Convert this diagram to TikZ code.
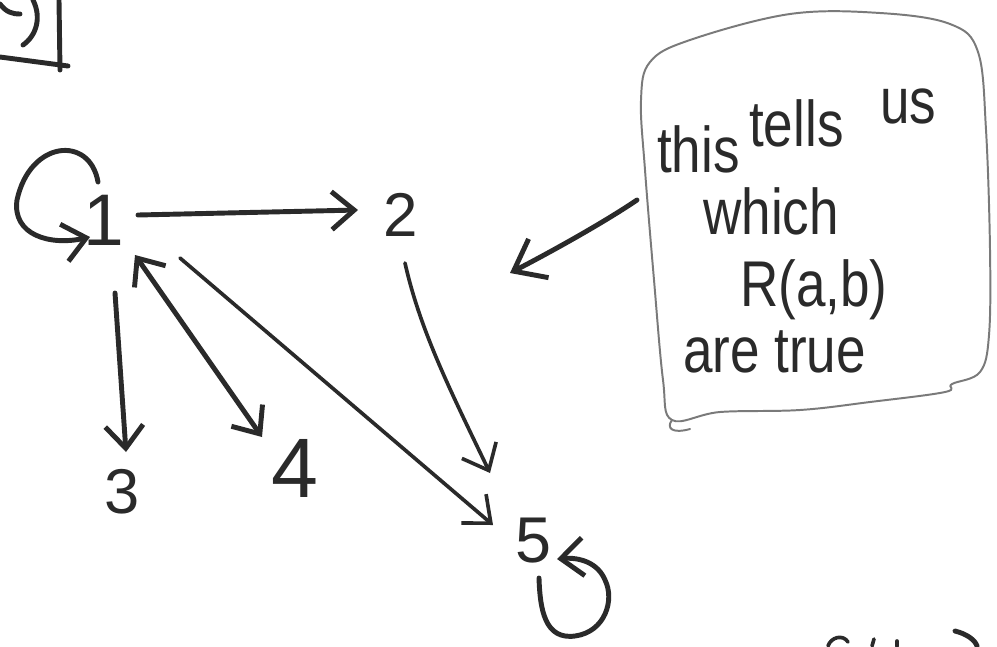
\documentclass[tikz,border=0pt]{standalone}
\usepackage{fontspec}
\setmainfont{Liberation Sans}
\usetikzlibrary{arrows.meta,calc}
\definecolor{ink}{HTML}{2A2A2A}
\definecolor{pencil}{HTML}{7A7A7A}
\begin{document}
\begin{tikzpicture}[x=0.025cm,y=-0.025cm,
  stroke/.style={draw=ink,line width=3.5pt,line cap=round,line join=round},
  thinstroke/.style={draw=ink,line width=2.6pt,line cap=round,line join=round},
  barb/.style={-{Straight Barb[length=16pt,width=27pt]}},
  twobarb/.style={{Straight Barb[length=16pt,width=27pt]}-{Straight Barb[length=16pt,width=27pt]}},
  bigbarb/.style={-{Straight Barb[length=20pt,width=31pt]}},
  digit/.style={text=ink,inner sep=0pt},
  note/.style={text=ink,inner sep=0pt,xscale=0.82,font=\fontsize{46}{46}\selectfont},
  outline/.style={draw=pencil,line width=1.4pt,line cap=round,line join=round}]
\useasboundingbox (0,0) rectangle (997,646);
\clip (0,0) rectangle (997,646);

% corner of a boxed formula running off the top left
\draw[stroke] (59,0) -- (60,70);
\draw[stroke] (0,57) -- (68,66);
\draw[stroke] (33,0) .. controls (42,18) and (36,36) .. (23,45);
\draw[stroke] (0,4) .. controls (6,12) and (12,14) .. (20,14);

% vertices
\node[digit,font=\fontsize{52}{52}\selectfont] (n1) at (104,220) {1};
\node[digit,font=\fontsize{44}{44}\selectfont] (n2) at (401,215) {2};
\node[digit,font=\fontsize{45}{45}\selectfont] (n3) at (122,492) {3};
\node[digit,font=\fontsize{60}{60}\selectfont] (n4) at (295,468) {4};
\node[digit,font=\fontsize{46}{46}\selectfont] (n5) at (533,541) {5};

% self-loop on 1
\draw[stroke,barb] ($(n1)+(-6,-38)$) .. controls (90,135) and (30,140) .. (17,200)
  .. controls (12,235) and (50,246) .. ($(n1)+(-14,17)$);

% edges out of 1
\draw[stroke,barb] ($(n1)+(34,-5)$) -- ($(n2)+(-43,-5)$);
\draw[stroke,barb] ($(n1)+(11,73)$) -- ($(n3)+(4,-40)$);
\draw[stroke,twobarb] ($(n1)+(31,35)$) -- ($(n4)+(-33,-31)$);
\draw[thinstroke,barb] ($(n1)+(76,38)$) -- ($(n5)+(-40,-16)$);

% edge 2 -> 5
\draw[thinstroke,barb] ($(n2)+(4,48)$) .. controls (420,330) and (450,390) .. ($(n5)+(-43,-68)$);

% self-loop on 5
\draw[stroke,barb] ($(n5)+(6,37)$) .. controls (540,610) and (545,640) .. (575,636)
  .. controls (605,632) and (615,600) .. (605,580)
  .. controls (598,563) and (580,557) .. ($(n5)+(24,18)$);

% speech bubble
\coordinate (callout) at (641,222);
\draw[outline] plot[smooth cycle,tension=0.6] coordinates {
  (650,62) (690,40) (790,14) (880,13) (950,24) (978,52) (986,130) (990,250)
  (989,335) (980,372) (952,384) (945,392) (870,402) (800,410) (720,412) (672,420)
  (663,380) (654,280) (645,170) (641,100)};
\draw[outline] (672,420) .. controls (666,428) and (672,434) .. (690,429);

% first line climbs word by word
\node[note,anchor=base west] (w1) at (657,172) {this};
\node[note,anchor=base west] (w2) at (749,146) {tells};
\node[note,anchor=base west] (w3) at (880,123) {us};
\node[note,anchor=base west] (l2) at (703,234) {which};
\node[note,anchor=base west] (l3) at (740,306) {R(a,b)};
\node[note,anchor=base west] (l4) at (683,372) {are true};

\coordinate (pointee) at (510,273);
\draw[stroke,bigbarb] ($(callout)+(-4,-22)$) .. controls (600,225) and (543,256) .. (pointee);

% writing running off the bottom edge
\draw[thinstroke] (828,646) .. controls (831,637) and (843,634) .. (848,642);
\draw[thinstroke] (874,639) -- (872,646);
\draw[thinstroke] (897,641) -- (897,646);
\draw[stroke] (955,631) .. controls (967,634) and (975,640) .. (977,646);
\end{tikzpicture}
\end{document}
